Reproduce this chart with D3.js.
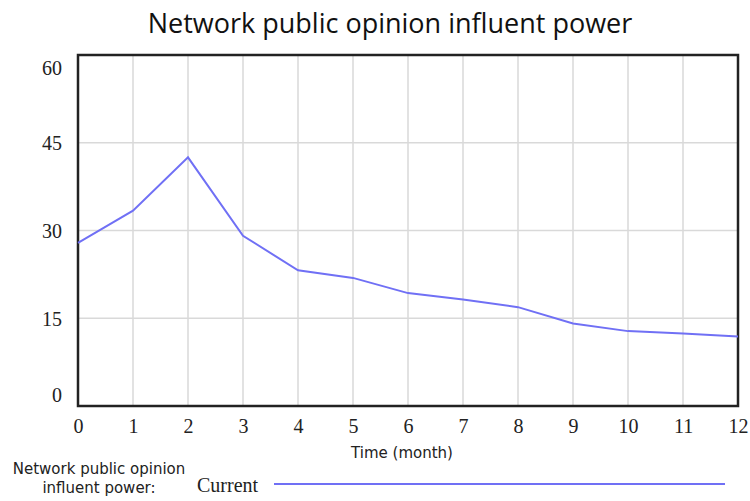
<!DOCTYPE html>
<html>
<head>
<meta charset="utf-8">
<script src="https://d3js.org/d3.v7.min.js"></script>
<style>
  body { margin: 0; background: #fff; }
</style>
</head>
<body>
<script>
// chart data
var months = [0, 1, 2, 3, 4, 5, 6, 7, 8, 9, 10, 11, 12]
var current = [27.9, 33.4, 42.5, 29.1, 23.2, 21.9, 19.3, 18.2, 16.9, 14.1, 12.8, 12.4, 11.9]
var yTicks = [0, 15, 30, 45, 60]

var width = 750, height = 501
var plot = {left: 78, right: 738, top: 55, bottom: 406}

var svg = d3.select('body').append('svg')
  .attr('width', width)
  .attr('height', height)

var x = d3.scaleLinear().domain([0, 12]).range([plot.left, plot.right])
var y = d3.scaleLinear().domain([0, 60]).range([plot.bottom, plot.top])

// title
svg.append('text')
  .attr('x', 390).attr('y', 33)
  .attr('text-anchor', 'middle')
  .style('font-family', '"Open Sans", "DejaVu Sans", sans-serif')
  .style('font-size', '27px')
  .style('fill', '#111')
  .text('Network public opinion influent power')

// grid
svg.append('g').selectAll('line.v')
  .data(months.slice(1, -1))
  .enter().append('line')
  .attr('x1', function(d){ return x(d) }).attr('x2', function(d){ return x(d) })
  .attr('y1', plot.top).attr('y2', plot.bottom)
  .style('stroke', '#d9d9d9').style('stroke-width', 1.5)

svg.append('g').selectAll('line.h')
  .data(yTicks.slice(1, -1))
  .enter().append('line')
  .attr('y1', function(d){ return y(d) }).attr('y2', function(d){ return y(d) })
  .attr('x1', plot.left).attr('x2', plot.right)
  .style('stroke', '#d9d9d9').style('stroke-width', 1.5)

// frame
svg.append('rect')
  .attr('x', plot.left).attr('y', plot.top)
  .attr('width', plot.right - plot.left)
  .attr('height', plot.bottom - plot.top)
  .style('fill', 'none').style('stroke', '#222').style('stroke-width', 2.5)

// axes labels (serif like the original)
var yAxis = d3.axisLeft(y).tickValues(yTicks).tickSize(0).tickPadding(16)
var gy = svg.append('g').attr('transform', 'translate(' + plot.left + ',0)').call(yAxis)
gy.select('.domain').remove()
gy.selectAll('text')
  .style('font-family', '"Liberation Serif", serif')
  .style('font-size', '20px')
  .style('fill', '#222')
  .attr('dy', function(d){ return d == 60 ? '0.95em' : d == 0 ? '-0.22em' : '0.35em' })

var xAxis = d3.axisBottom(x).tickValues(months).tickSize(0).tickPadding(13)
var gx = svg.append('g').attr('transform', 'translate(0,' + plot.bottom + ')').call(xAxis)
gx.select('.domain').remove()
gx.selectAll('text')
  .style('font-family', '"Liberation Serif", serif')
  .style('font-size', '20px')
  .style('fill', '#222')

svg.append('text')
  .attr('x', 402).attr('y', 458)
  .attr('text-anchor', 'middle')
  .style('font-family', '"DejaVu Sans", sans-serif')
  .style('font-size', '15px')
  .style('fill', '#222')
  .text('Time (month)')

// line
var line = d3.line()
  .x(function(d, i){ return x(months[i]) })
  .y(function(d){ return y(d) })

svg.append('path')
  .datum(current)
  .attr('d', line)
  .style('fill', 'none')
  .style('stroke', '#7070f5')
  .style('stroke-width', 2)

// legend
var leg = svg.append('g')
leg.append('text')
  .attr('x', 99).attr('y', 474)
  .attr('text-anchor', 'middle')
  .style('font-family', '"DejaVu Sans", sans-serif')
  .style('font-size', '15px')
  .style('fill', '#222')
  .text('Network public opinion')
leg.append('text')
  .attr('x', 99).attr('y', 493)
  .attr('text-anchor', 'middle')
  .style('font-family', '"DejaVu Sans", sans-serif')
  .style('font-size', '15px')
  .style('fill', '#222')
  .text('influent power:')
leg.append('text')
  .attr('x', 197).attr('y', 492)
  .style('font-family', '"Liberation Serif", serif')
  .style('font-size', '20px')
  .style('fill', '#222')
  .text('Current')
leg.append('line')
  .attr('x1', 274).attr('x2', 725)
  .attr('y1', 484).attr('y2', 484)
  .style('stroke', '#7070f5')
  .style('stroke-width', 2)
</script>
</body>
</html>
